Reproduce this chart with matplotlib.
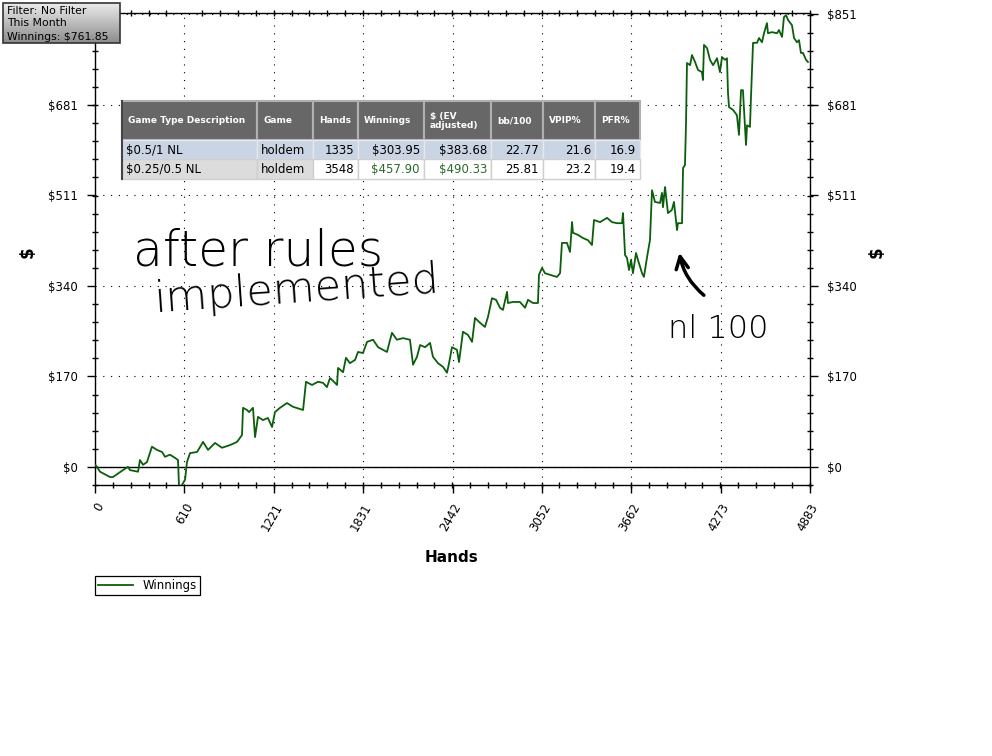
import numpy as np
import matplotlib
matplotlib.use("Agg")
import matplotlib.pyplot as plt
from matplotlib.patches import Rectangle
from matplotlib.ticker import FixedLocator, AutoMinorLocator

# ---------------- data ----------------
hands = [0, 14, 34, 102, 123, 191, 225, 239, 294, 307, 328, 355, 389, 423, 458, 478, 512, 546, 567, 574,
         594, 615, 628, 649, 697, 738, 772, 820, 867, 922, 970, 1004, 1011, 1038, 1052, 1079, 1093, 1113,
         1147, 1181, 1209, 1229, 1263, 1311, 1352, 1421, 1441, 1482, 1523, 1557, 1584, 1605, 1639, 1653,
         1660, 1694, 1714, 1741, 1776, 1796, 1830, 1858, 1899, 1933, 1994, 2028, 2062, 2103, 2151, 2172,
         2199, 2220, 2254, 2288, 2308, 2342, 2377, 2404, 2418, 2438, 2472, 2486, 2513, 2547, 2575, 2595,
         2629, 2663, 2684, 2711, 2739, 2766, 2786, 2814, 2820, 2855, 2902, 2937, 2957, 2991, 3025, 3032,
         3053, 3073, 3107, 3155, 3176, 3189, 3223, 3244, 3258, 3264, 3299, 3333, 3367, 3394, 3408, 3449,
         3497, 3531, 3565, 3599, 3606, 3620, 3633, 3647, 3661, 3674, 3695, 3708, 3736, 3749, 3770, 3790,
         3804, 3824, 3859, 3872, 3879, 3893, 3913, 3940, 3954, 3975, 3981, 4009, 4016, 4029, 4036, 4043,
         4064, 4077, 4098, 4118, 4145, 4152, 4159, 4180, 4200, 4221, 4234, 4248, 4268, 4282, 4303, 4316,
         4323, 4330, 4357, 4384, 4398, 4412, 4425, 4439, 4446, 4453, 4473, 4480, 4494, 4521, 4535, 4555,
         4569, 4589, 4596, 4623, 4658, 4671, 4692, 4705, 4719, 4733, 4760, 4774, 4794, 4808, 4821, 4835,
         4856, 4869]
winnings = [4, 0, -9, -19, -19, -6, 0, -6, -9, 13, 4, 9, 38, 32, 28, 19, 23, 17, 13, -39,
            -34, -24, 9, 26, 28, 47, 32, 45, 36, 41, 47, 60, 111, 107, 103, 111, 56, 94,
            88, 92, 75, 103, 111, 120, 113, 107, 160, 154, 160, 158, 150, 167, 158, 154,
            186, 178, 205, 195, 201, 216, 214, 235, 239, 225, 216, 252, 239, 242, 239, 192,
            207, 229, 225, 233, 207, 195, 188, 177, 195, 225, 220, 197, 254, 248, 235, 280,
            271, 263, 282, 317, 314, 299, 295, 329, 308, 310, 310, 299, 314, 308, 308, 361,
            374, 364, 361, 357, 364, 421, 421, 404, 460, 440, 436, 430, 426, 417, 464, 460,
            468, 460, 458, 458, 477, 398, 393, 370, 389, 364, 402, 389, 364, 357, 394, 426,
            520, 498, 496, 515, 488, 526, 477, 483, 498, 445, 458, 458, 562, 567, 642, 759,
            755, 774, 761, 746, 742, 727, 793, 787, 765, 755, 761, 768, 742, 770, 765, 768,
            703, 676, 671, 661, 624, 708, 708, 639, 605, 642, 639, 695, 797, 797, 806, 798,
            815, 834, 815, 817, 815, 821, 808, 845, 849, 840, 830, 806, 798, 802, 778, 778,
            765, 761]

x_ticks = [0, 610, 1221, 1831, 2442, 3052, 3662, 4273, 4883]
y_ticks = [0, 170, 340, 511, 681, 851]
y_ticklabels = ["$0", "$170", "$340", "$511", "$681", "$851"]

filter_lines = ["Filter: No Filter", "This Month", "Winnings: $761.85"]
table_header = ["Game Type Description", "Game", "Hands", "Winnings", "$ (EV\nadjusted)",
                "bb/100", "VPIP%", "PFR%"]
row1 = ["$0.5/1 NL", "holdem", "1335", "$303.95", "$383.68", "22.77", "21.6", "16.9"]
row2 = ["$0.25/0.5 NL", "holdem", "3548", "$457.90", "$490.33", "25.81", "23.2", "19.4"]

# ---------------- figure ----------------
W, H = 992, 756
fig = plt.figure(figsize=(W / 100, H / 100), dpi=100)
fig.patch.set_facecolor("white")

L, R, T, B = 95, 810, 13, 485
ax = fig.add_axes([L / W, 1 - B / H, (R - L) / W, (B - T) / H])
green = "#0b5e0b"
ax.plot(hands, winnings, color=green, lw=1.3, label="Winnings", zorder=3)
ax.axhline(0, color="black", lw=1.0, zorder=2)

ax.set_xlim(0, 4883)
ax.set_ylim(-34, 853)
ax.xaxis.set_major_locator(FixedLocator(x_ticks))
ax.yaxis.set_major_locator(FixedLocator(y_ticks))
ax.xaxis.set_minor_locator(AutoMinorLocator(5))
ax.yaxis.set_minor_locator(AutoMinorLocator(5))
ax.set_yticklabels(y_ticklabels)
ax.set_xticklabels([str(v) for v in x_ticks], rotation=60, ha="right", va="top",
                   rotation_mode="anchor")
ax.grid(True, which="major", color="black", lw=0.8, linestyle=(0, (1, 6)))
for s in ax.spines.values():
    s.set_color("black")
    s.set_linewidth(1.0)
ax.tick_params(which="major", direction="out", length=5.5, width=1, labelsize=8.5,
               right=True, labelright=True, top=False)
ax.tick_params(axis="y", which="major", pad=7)
ax.tick_params(axis="x", which="major", pad=6)
ax.tick_params(which="minor", direction="inout", length=4.5, width=1, right=True, top=True)
# the top-left label is hidden behind the filter box in the reference
ax.yaxis.get_major_ticks()[-1].label1.set_visible(False)

fig.text(452 / W, 1 - 557 / H, "Hands", ha="center", va="center", fontsize=11, fontweight="bold")
fig.text(28 / W, 1 - 252 / H, "$", ha="center", va="center", fontsize=12, fontweight="bold",
         rotation=90)
fig.text(877 / W, 1 - 252 / H, "$", ha="center", va="center", fontsize=12, fontweight="bold",
         rotation=90)

leg = ax.legend(loc="upper left", bbox_to_anchor=(95 / W, 1 - 576 / H),
                bbox_transform=fig.transFigure, frameon=True, fancybox=False,
                edgecolor="black", framealpha=1, fontsize=8.5, borderpad=0.25,
                handlelength=3.0, handletextpad=0.8, borderaxespad=0)
leg.get_frame().set_linewidth(0.9)

# ---------------- overlay (pixel coordinates) ----------------
ov = fig.add_axes([0, 0, 1, 1], zorder=5)
ov.patch.set_visible(False)
ov.axis("off")

# filter box with gradient
grad = np.linspace(0.92, 0.55, 64).reshape(-1, 1)
ov.imshow(grad, extent=(3, 120, 43, 3), cmap="gray", vmin=0, vmax=1, aspect="auto", zorder=1)
ov.add_patch(Rectangle((3, 3), 117, 40, fill=False, edgecolor="#333333", lw=1.2, zorder=2))
for k, line in enumerate(filter_lines):
    ov.text(7, 10.5 + 13 * k, line, ha="left", va="center", fontsize=7.8, zorder=3)

# table
cols = [122, 257, 313, 358, 424, 491, 543, 595, 640]
ytop, yh, yr1, yr2 = 101, 140, 159, 179
for i, h in enumerate(table_header):
    x0, x1 = cols[i], cols[i + 1]
    ov.add_patch(Rectangle((x0, ytop), x1 - x0, yh - ytop, facecolor="#676767",
                           edgecolor="#b0b0b0", lw=1.5, zorder=2))
    ov.text(x0 + 6, (ytop + yh) / 2, h, color="white", fontsize=6.5, fontweight="bold",
            ha="left", va="center", linespacing=1.0, zorder=3)
for i in range(8):
    x0, x1 = cols[i], cols[i + 1]
    ov.add_patch(Rectangle((x0, yh), x1 - x0, yr1 - yh, facecolor="#c9d4e4",
                           edgecolor="#e8e8e8", lw=1, zorder=2))
    c2 = "#dcdcdc" if i < 2 else "white"
    ov.add_patch(Rectangle((x0, yr1), x1 - x0, yr2 - yr1, facecolor=c2,
                           edgecolor="#cfcfcf", lw=1, zorder=2))
    for row, y0, y1 in ((row1, yh, yr1), (row2, yr1, yr2)):
        col = "#2c6b2c" if (row is row2 and i in (3, 4)) else "black"
        if i < 2:
            ov.text(x0 + 4, (y0 + y1) / 2 + 0.5, row[i], fontsize=8.5, ha="left", va="center",
                    color=col, zorder=3)
        else:
            ov.text(x1 - 4, (y0 + y1) / 2 + 0.5, row[i], fontsize=8.5, ha="right", va="center",
                    color=col, zorder=3)
ov.plot([122, 122], [ytop, yr2], color="#444444", lw=1.5, zorder=4)

# handwritten annotations
ov.text(133, 266, "after rules", fontsize=35, color="black", ha="left", va="baseline",
        fontweight="light", zorder=3)
ov.text(152, 312, "implemented", fontsize=31, color="black", ha="left", va="baseline",
        fontweight="light", rotation=4, zorder=3)
ov.text(668, 338, "nl 100", fontsize=23, color="black", ha="left", va="baseline",
        fontweight="light", zorder=3)
ov.annotate("", xy=(679, 250), xytext=(706, 297),
            arrowprops=dict(arrowstyle="->", lw=2.5, color="black",
                            connectionstyle="arc3,rad=-0.2", mutation_scale=22), zorder=3)

ov.set_xlim(0, W)
ov.set_ylim(H, 0)

fig.savefig("out.png", dpi=100, facecolor="white")
